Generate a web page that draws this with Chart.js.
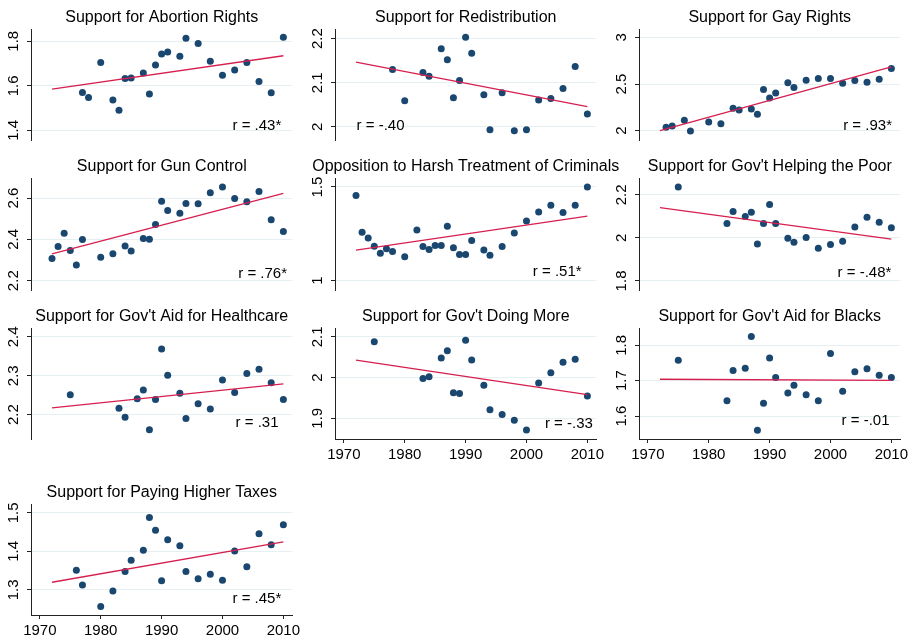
<!DOCTYPE html>
<html>
<head>
<meta charset="utf-8">
<script src="https://cdn.jsdelivr.net/npm/chart.js@4.4.0/dist/chart.umd.min.js"></script>
<style>
  html, body { margin: 0; padding: 0; background: #fff; overflow: hidden; }
  body { width: 912px; height: 640px; position: relative; }
  canvas { position: absolute; }
</style>
</head>
<body>
<script>
// ---- data ----
const titles = [
  "Support for Abortion Rights", "Support for Redistribution", "Support for Gay Rights",
  "Support for Gun Control", "Opposition to Harsh Treatment of Criminals", "Support for Gov't Helping the Poor",
  "Support for Gov't Aid for Healthcare", "Support for Gov't Doing More", "Support for Gov't Aid for Blacks",
  "Support for Paying Higher Taxes"
];

const abortionYears = [1977,1978,1980,1982,1983,1984,1985,1987,1988,1989,1990,1991,1993,1994,1996,1998,2000,2002,2004,2006,2008,2010];
const abortionVals  = [1.570,1.548,1.705,1.537,1.490,1.633,1.635,1.658,1.563,1.694,1.743,1.752,1.733,1.813,1.790,1.710,1.647,1.671,1.705,1.620,1.569,1.818];

const redistYears = [1978,1980,1983,1984,1986,1987,1988,1989,1990,1991,1993,1994,1996,1998,2000,2002,2004,2006,2008,2010];
const redistVals  = [2.130,2.059,2.123,2.115,2.177,2.152,2.066,2.105,2.203,2.167,2.073,1.993,2.077,1.991,1.993,2.061,2.064,2.087,2.137,2.029];

const gayYears = [1973,1974,1976,1977,1980,1982,1984,1985,1987,1988,1989,1990,1991,1993,1994,1996,1998,2000,2002,2004,2006,2008,2010];
const gayVals  = [2.036,2.050,2.111,1.996,2.093,2.075,2.240,2.222,2.233,2.176,2.441,2.351,2.405,2.513,2.462,2.541,2.559,2.559,2.509,2.538,2.520,2.552,2.667];

const gunYears = [1972,1973,1974,1975,1976,1977,1980,1982,1984,1985,1987,1988,1989,1990,1991,1993,1994,1996,1998,2000,2002,2004,2006,2008,2010];
const gunVals  = [2.307,2.365,2.430,2.346,2.276,2.399,2.313,2.331,2.368,2.344,2.404,2.401,2.472,2.585,2.540,2.527,2.574,2.572,2.626,2.653,2.598,2.582,2.632,2.495,2.438];

const crimYears = [1972,1973,1974,1975,1976,1977,1978,1980,1982,1983,1984,1985,1986,1987,1988,1989,1990,1991,1993,1994,1996,1998,2000,2002,2004,2006,2008,2010];
const crimVals  = [1.454,1.259,1.227,1.184,1.146,1.170,1.155,1.127,1.270,1.182,1.166,1.188,1.188,1.291,1.175,1.139,1.139,1.214,1.163,1.136,1.182,1.254,1.318,1.366,1.402,1.364,1.402,1.500];

const poorYears = [1975,1983,1984,1986,1987,1988,1989,1990,1991,1993,1994,1996,1998,2000,2002,2004,2006,2008,2010];
const poorVals  = [2.236,2.067,2.122,2.099,2.119,1.971,2.067,2.155,2.067,1.998,1.980,2.002,1.952,1.969,1.984,2.050,2.096,2.073,2.047];

const healthYears = [1975,1983,1984,1986,1987,1988,1989,1990,1991,1993,1994,1996,1998,2000,2002,2004,2006,2008,2010];
const healthVals  = [2.251,2.216,2.193,2.241,2.263,2.161,2.239,2.369,2.301,2.255,2.190,2.228,2.214,2.289,2.257,2.306,2.317,2.282,2.239];

const moreYears = [1975,1983,1984,1986,1987,1988,1989,1990,1991,1993,1994,1996,1998,2000,2002,2004,2006,2008,2010];
const moreVals  = [2.088,1.998,2.002,2.048,2.066,1.963,1.961,2.092,2.043,1.981,1.921,1.909,1.895,1.871,1.987,2.012,2.038,2.045,1.955];

const blacksYears = [1975,1983,1984,1986,1987,1988,1989,1990,1991,1993,1994,1996,1998,2000,2002,2004,2006,2008,2010];
const blacksVals  = [1.758,1.643,1.729,1.735,1.825,1.560,1.636,1.764,1.709,1.665,1.687,1.660,1.643,1.777,1.670,1.725,1.734,1.715,1.709];

const taxYears = [1976,1977,1980,1982,1984,1985,1987,1988,1989,1990,1991,1993,1994,1996,1998,2000,2002,2004,2006,2008,2010];
const taxVals  = [1.351,1.313,1.257,1.297,1.348,1.377,1.403,1.488,1.455,1.324,1.430,1.415,1.348,1.329,1.341,1.325,1.401,1.360,1.446,1.417,1.469];

const panelYears = [abortionYears, redistYears, gayYears, gunYears, crimYears, poorYears, healthYears, moreYears, blacksYears, taxYears];
const panelVals  = [abortionVals, redistVals, gayVals, gunVals, crimVals, poorVals, healthVals, moreVals, blacksVals, taxVals];

// fitted line, value at 1972 and at 2010
const fitYears = [1972, 2010];
const fitStart = [1.585, 2.147, 2.000, 2.330, 1.163, 2.140, 2.217, 2.043, 1.704, 1.320];
const fitEnd   = [1.735, 2.046, 2.685, 2.623, 1.345, 1.994, 2.279, 1.958, 1.701, 1.425];

const rTexts = ["r = .43*", "r = -.40", "r = .93*", "r = .76*", "r = .51*", "r = -.48*", "r = .31", "r = -.33", "r = -.01", "r = .45*"];

// tick labels
const xTicks = [1970, 1980, 1990, 2000, 2010];
const yTicks = [
  [1.4, 1.6, 1.8], [2, 2.1, 2.2], [2, 2.5, 3],
  [2.2, 2.4, 2.6], [1, 1.5], [1.8, 2, 2.2],
  [2.2, 2.3, 2.4], [1.9, 2, 2.1], [1.6, 1.7, 1.8],
  [1.3, 1.4, 1.5]
];
const yMin = [1.357, 1.970, 1.900, 2.155, 0.950, 1.758, 2.137, 1.849, 1.535, 1.235];
const yMax = [1.855, 2.222, 3.090, 2.697, 1.548, 2.278, 2.423, 2.122, 1.849, 1.523];

// ---- layout / style ----
const FONT = "'Liberation Sans', Arial, Helvetica, sans-serif";
const NAVY = '#1a476f';
const RED = '#d61f4f';
const GRID = '#e6eff1';
const AXIS = '#222';
const X_MIN = 1968.55, X_MAX = 2011.5;

const colLeft = [31, 335, 639];
const rowTop = [29, 178, 328, 504];
const rowBottom = [140, 290, 439, 615];
const PLOT_W = 261.5;
const YAXIS_W = 30, TITLE_H = 28, XAXIS_H = 30, CANVAS_W = 318;
const xAxisPanels = [7, 8, 9];
// where the r label sits (data units) and which side it is anchored on
const rPos = [
  [2009.66, 1.422, 'right'], [1972.1, 2.002, 'left'], [2010.1, 2.054, 'right'],
  [2010.6, 2.232, 'right'], [2009.06, 1.048, 'right'], [2010.0, 1.836, 'right'],
  [2009.2, 2.179, 'right'], [2010.9, 1.887, 'right'], [2009.7, 1.585, 'right'],
  [2009.66, 1.277, 'right']
];

// panel title (centred over the plot, never squeezed) and the r label
const textPlugin = {
  id: 'paneltext',
  afterDatasetsDraw(chart, args, opts) {
    const ctx = chart.ctx;
    const area = chart.chartArea;
    ctx.save();
    ctx.fillStyle = '#000';
    ctx.textBaseline = 'middle';
    ctx.font = '16px ' + FONT;
    ctx.textAlign = 'center';
    ctx.fillText(opts.title, (area.left + area.right) / 2, area.top - 11.8);
    ctx.font = '15px ' + FONT;
    ctx.textAlign = opts.align;
    ctx.fillText(opts.text, chart.scales.x.getPixelForValue(opts.x), chart.scales.y.getPixelForValue(opts.y));
    ctx.restore();
  }
};

function makePanel(i) {
  const col = i % 3, row = Math.floor(i / 3);
  const hasX = xAxisPanels.includes(i);
  const plotH = rowBottom[row] - rowTop[row];
  const ch = TITLE_H + plotH + (hasX ? XAXIS_H : 4);
  const canvas = document.createElement('canvas');
  canvas.width = CANVAS_W;
  canvas.height = ch;
  canvas.style.left = (colLeft[col] - YAXIS_W) + 'px';
  canvas.style.top = (rowTop[row] - TITLE_H) + 'px';
  canvas.style.width = CANVAS_W + 'px';
  canvas.style.height = ch + 'px';
  document.body.appendChild(canvas);

  const pts = panelYears[i].map((yr, k) => ({x: yr, y: panelVals[i][k]}));
  const fit = [{x: fitYears[0], y: fitStart[i]}, {x: fitYears[1], y: fitEnd[i]}];

  new Chart(canvas, {
    type: 'scatter',
    data: {
      datasets: [
        {type: 'line', data: fit, borderColor: RED, borderWidth: 1.3, pointRadius: 0, fill: false, tension: 0},
        {data: pts, backgroundColor: NAVY, borderWidth: 0, pointRadius: 3.5}
      ]
    },
    options: {
      responsive: false,
      animation: false,
      events: [],
      layout: {padding: {left: 0, top: TITLE_H, right: CANVAS_W - YAXIS_W - PLOT_W, bottom: hasX ? 0 : 4}},
      plugins: {
        legend: {display: false},
        tooltip: {enabled: false},
        title: {display: false},
        paneltext: {title: titles[i], text: rTexts[i], x: rPos[i][0], y: rPos[i][1], align: rPos[i][2]}
      },
      scales: {
        x: {
          type: 'linear', min: X_MIN, max: X_MAX, display: hasX,
          afterBuildTicks: s => { s.ticks = xTicks.map(v => ({value: v})); },
          afterFit: s => { s.height = hasX ? XAXIS_H : 0; s.paddingLeft = 0; s.paddingRight = 0; },
          grid: {drawOnChartArea: false, drawTicks: true, tickLength: 4, tickColor: AXIS},
          border: {display: true, color: AXIS, width: 1},
          ticks: {color: '#000', font: {family: FONT, size: 15}, padding: 3, maxRotation: 0, autoSkip: false,
                  callback: v => String(v)}
        },
        y: {
          type: 'linear', min: yMin[i], max: yMax[i],
          afterBuildTicks: s => { s.ticks = yTicks[i].map(v => ({value: v})); },
          afterFit: s => { s.width = YAXIS_W; s.paddingTop = 0; s.paddingBottom = 0; },
          grid: {color: GRID, lineWidth: 1, drawTicks: true, tickLength: 4, tickColor: AXIS},
          border: {display: true, color: AXIS, width: 1},
          ticks: {color: '#000', font: {family: FONT, size: 15}, padding: 3, minRotation: 90, maxRotation: 90,
                  crossAlign: 'center', autoSkip: false, callback: v => String(+v.toFixed(2))}
        }
      }
    },
    plugins: [textPlugin]
  });
}

for (let i = 0; i < titles.length; i++) makePanel(i);
</script>
</body>
</html>
